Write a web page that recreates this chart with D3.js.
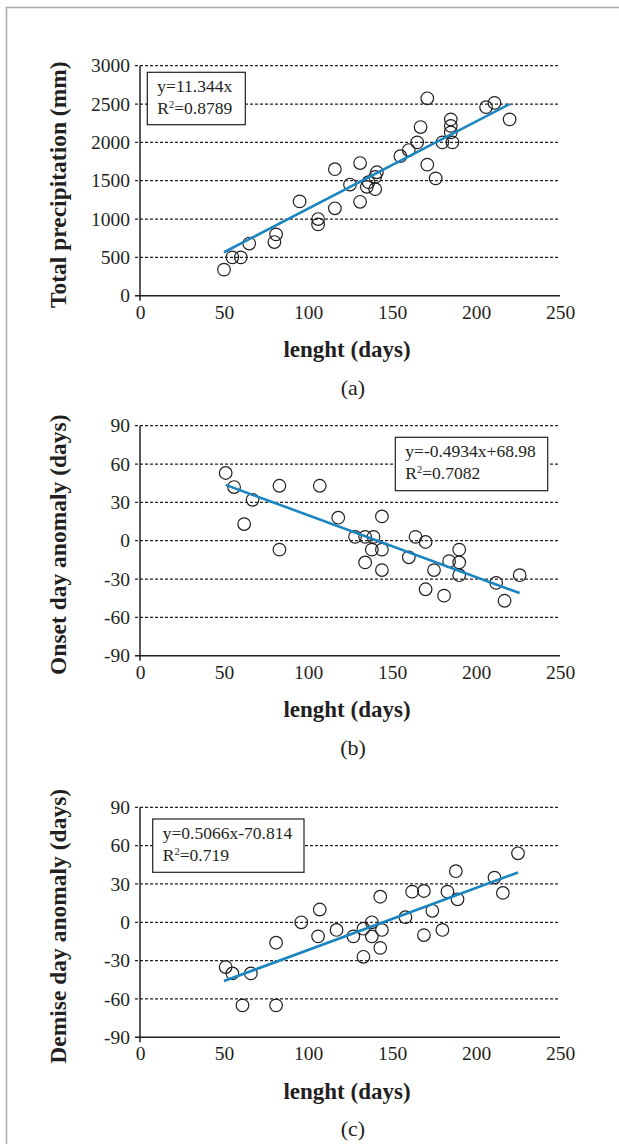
<!DOCTYPE html>
<html>
<head>
<meta charset="utf-8">
<script src="https://cdn.jsdelivr.net/npm/d3@7"></script>
<style>
  body { margin: 0; background: #fff; }
  svg text { font-family: "Liberation Serif", "Times New Roman", serif; fill: #231f20; }
</style>
</head>
<body>
<div id="chart"></div>
<script>

// shared axis
var xTicks = [0, 50, 100, 150, 200, 250];
var precipTicks = [0, 500, 1000, 1500, 2000, 2500, 3000];
var anomalyTicks = [-90, -60, -30, 0, 30, 60, 90];

// (a) total precipitation vs length
var lengthA = [50, 55, 60, 65, 80, 81, 95, 106, 106, 116, 116, 125, 131, 131, 135, 136, 140, 140, 141, 155, 160, 165, 167, 171, 171, 176, 180, 185, 185, 185, 186, 206, 211, 220];
var precipA = [340, 500, 500, 680, 700, 800, 1230, 1000, 930, 1140, 1650, 1450, 1730, 1225, 1420, 1480, 1390, 1550, 1610, 1820, 1900, 2000, 2200, 1710, 2575, 1530, 2000, 2300, 2215, 2130, 2000, 2460, 2515, 2300];
var trendAx = [50, 220];
var trendAy = [567, 2500];
var eqA = ['y=11.344x', '0.8789'];

// (b) onset day anomaly vs length
var lengthB = [51, 56, 67, 62, 83, 83, 107, 118, 128, 134, 134, 139, 138, 144, 144, 144, 160, 164, 170, 170, 175, 181, 184, 190, 190, 190, 212, 217, 226];
var onsetB = [53, 42, 32, 13, 43, -7, 43, 18, 3, 3, -17, 3, -7, 19, -7, -23, -13, 3, -1, -38, -23, -43, -16, -7, -17, -27, -33, -47, -27];
var trendBx = [51, 226];
var trendBy = [43.7, -41];
var eqB = ['y=-0.4934x+68.98', '0.7082'];

// (c) demise day anomaly vs length
var lengthC = [51, 55, 66, 61, 81, 81, 96, 107, 106, 117, 127, 133, 133, 138, 138, 143, 144, 143, 158, 162, 169, 169, 174, 180, 183, 188, 189, 211, 216, 225];
var demiseC = [-35, -40, -40, -65, -16, -65, 0, 10, -11, -6, -11, -5, -27, 0, -11, 20, -6, -20, 4, 24, 24.5, -10, 9, -6, 24, 40, 18, 35, 23, 54];
var trendCx = [50, 225];
var trendCy = [-46, 39];
var eqC = ['y=0.5066x-70.814', '0.719'];

var ink = '#231f20', blue = '#1a86c1';
var plotLeft = 140, plotW = 420, plotH = 230;

var svg = d3.select('#chart').append('svg')
    .attr('width', 619).attr('height', 1144);

// page frame
svg.append('path')
    .attr('d', 'M6.5,1144V7.5H619')
    .attr('fill', 'none').attr('stroke', '#a7a9ac').attr('stroke-width', 1.5);

var x = d3.scaleLinear().domain([0, 250]).range([0, plotW]);
var plain = function(d) { return String(d); };   // keep "3000" and "-90" as printed

function plotPanel(p) {
    var g = svg.append('g').attr('transform', 'translate(' + plotLeft + ',' + p.top + ')');
    var y = d3.scaleLinear().domain([p.ticks[0], p.ticks[p.ticks.length - 1]]).range([plotH, 0]);

    // dotted grid
    g.selectAll('line.grid').data(p.ticks.slice(1)).enter().append('line')
        .attr('class', 'grid')
        .attr('x1', -5).attr('x2', plotW)
        .attr('y1', function(d) { return y(d); }).attr('y2', function(d) { return y(d); })
        .attr('stroke', ink).attr('stroke-width', 1.2).attr('stroke-dasharray', '3,2');

    // axes
    var ya = g.append('g').call(d3.axisLeft(y).tickValues(p.ticks).tickFormat(plain).tickSize(0).tickPadding(10));
    ya.select('.domain').remove();
    ya.attr('font-family', null).attr('font-size', null);
    ya.selectAll('text').style('font-size', '19.5px');

    var xa = g.append('g').attr('transform', 'translate(0,' + plotH + ')')
        .call(d3.axisBottom(x).tickValues(xTicks).tickFormat(plain).tickSize(0).tickPadding(9));
    xa.select('.domain').remove();
    xa.attr('font-family', null).attr('font-size', null);
    xa.selectAll('text').style('font-size', '19.5px');

    g.append('line').attr('x1', 0).attr('x2', 0).attr('y1', 0).attr('y2', plotH + 5)
        .attr('stroke', ink).attr('stroke-width', 1.5);
    g.append('line').attr('x1', -5).attr('x2', plotW).attr('y1', plotH).attr('y2', plotH)
        .attr('stroke', ink).attr('stroke-width', 1.5);

    // points
    g.selectAll('circle.pt').data(p.xs).enter().append('circle')
        .attr('class', 'pt')
        .attr('cx', function(d) { return x(d); })
        .attr('cy', function(d, i) { return y(p.ys[i]); })
        .attr('r', 6.3)
        .attr('fill', 'none').attr('stroke', ink).attr('stroke-width', 1.2);

    // trend line
    g.append('line')
        .attr('x1', x(p.tx[0])).attr('y1', y(p.ty[0]))
        .attr('x2', x(p.tx[1])).attr('y2', y(p.ty[1]))
        .attr('stroke', blue).attr('stroke-width', 2.6);

    // equation box
    var lg = g.append('g').attr('transform', 'translate(' + p.box[0] + ',' + p.box[1] + ')');
    lg.append('rect').attr('width', p.box[2]).attr('height', p.box[3])
        .attr('fill', '#fff').attr('stroke', ink).attr('stroke-width', 1.2);
    lg.append('text').attr('x', 10).attr('y', 20).style('font-size', '17.5px').text(p.eq[0]);
    var r2 = lg.append('text').attr('x', 10).attr('y', 41.7).style('font-size', '17.5px');
    r2.append('tspan').text('R');
    r2.append('tspan').attr('dy', -6).style('font-size', '10.5px').text('2');
    r2.append('tspan').attr('dy', 6).text('=' + p.eq[1]);

    // titles
    g.append('text').attr('text-anchor', 'middle')
        .attr('transform', 'translate(-74,' + (plotH / 2 + 4) + ') rotate(-90)')
        .style('font-size', '23.5px').style('font-weight', 'bold')
        .text(p.ytitle);
    g.append('text').attr('text-anchor', 'middle')
        .attr('x', plotW / 2 - 3).attr('y', plotH + 61.5)
        .style('font-size', '23px').style('font-weight', 'bold')
        .text('lenght (days)');
    g.append('text').attr('text-anchor', 'middle')
        .attr('x', plotW / 2 + 3).attr('y', plotH + 99)
        .style('font-size', '22px')
        .text(p.label);
}

plotPanel({ top: 65.7, ticks: precipTicks, xs: lengthA, ys: precipA, tx: trendAx, ty: trendAy,
    eq: eqA, box: [7.3, 6.6, 98, 52.4], ytitle: 'Total precipitation (mm)', label: '(a)' });
plotPanel({ top: 425.7, ticks: anomalyTicks, xs: lengthB, ys: onsetB, tx: trendBx, ty: trendBy,
    eq: eqB, box: [255.3, 11.6, 152.4, 53.4], ytitle: 'Onset day anomaly (days)', label: '(b)' });
plotPanel({ top: 807.3, ticks: anomalyTicks, xs: lengthC, ys: demiseC, tx: trendCx, ty: trendCy,
    eq: eqC, box: [12.7, 11.7, 151.3, 53.3], ytitle: 'Demise day anomaly (days)', label: '(c)' });

</script>
</body>
</html>
